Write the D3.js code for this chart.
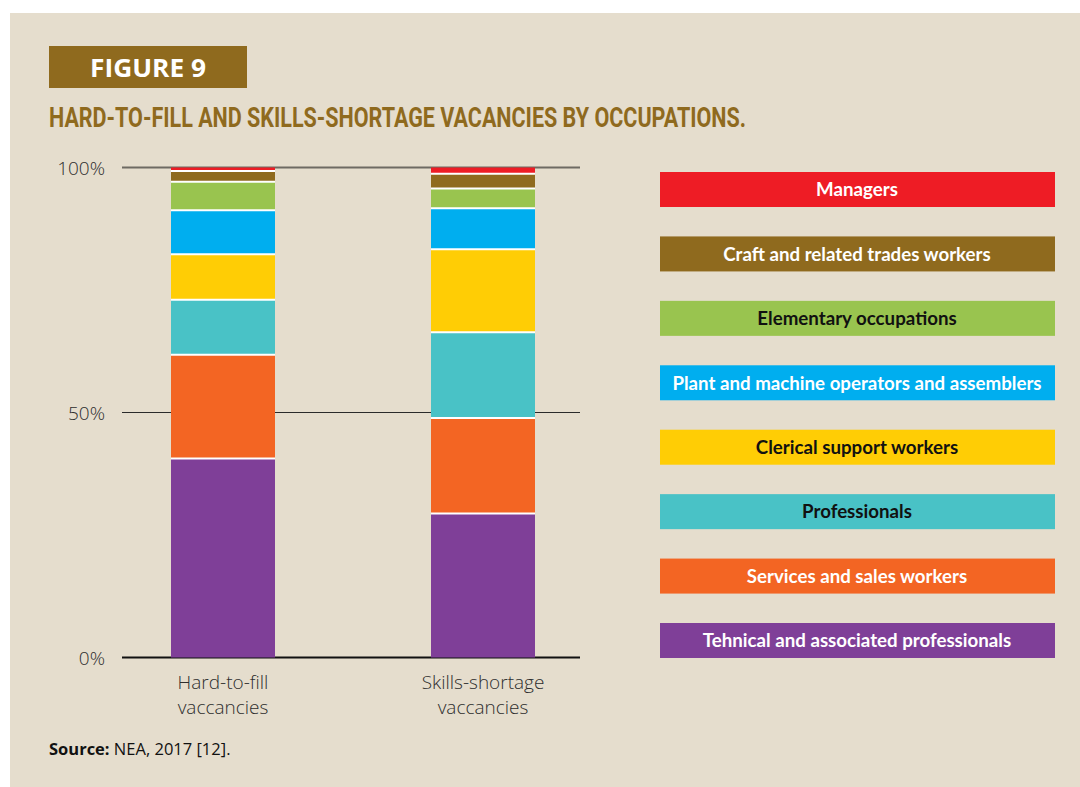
<!DOCTYPE html>
<html>
<head>
<meta charset="utf-8">
<script src="https://cdn.jsdelivr.net/npm/d3@7"></script>
<style>
  html, body { margin: 0; padding: 0; background: #ffffff; }
  svg { display: block; }
</style>
</head>
<body>
<svg id="chart" width="1080" height="787"></svg>
<script>
// Occupation groups, stacked from the bottom of each bar upward
const occupations = [
  "Tehnical and associated professionals",
  "Services and sales workers",
  "Professionals",
  "Clerical support workers",
  "Plant and machine operators and assemblers",
  "Elementary occupations",
  "Craft and related trades workers",
  "Managers"
];
const occupationColors = ["#7f3f98", "#f36523", "#49c2c6", "#ffcd05", "#00aeef", "#99c44f", "#8f6a1e", "#ee1c25"];
const legendTextColors = ["#ffffff", "#ffffff", "#111111", "#111111", "#ffffff", "#111111", "#ffffff", "#ffffff"];

// Vacancy types (x categories) and their label lines
const vacancyTypes = ["Hard-to-fill", "Skills-shortage"];
const vacancyLabels = [["Hard-to-fill", "vaccancies"], ["Skills-shortage", "vaccancies"]];

// Share of vacancies (%) per occupation, same order as occupations
const hardToFill = [40.6, 21.2, 11.2, 9.3, 9.0, 5.8, 2.2, 0.7];
const skillsShortage = [29.4, 19.5, 17.5, 16.9, 8.4, 4.0, 3.0, 1.3];

const yTicks = [0, 50, 100];
const yTickLabels = ["0%", "50%", "100%"];

const svg = d3.select("#chart");
const gold = "#8f6a1e";

// Beige panel
svg.append("rect").attr("x", 10).attr("y", 13).attr("width", 1070).attr("height", 774).attr("fill", "#e5ddcd");

// Figure banner
svg.append("rect").attr("x", 49).attr("y", 46).attr("width", 198).attr("height", 42).attr("fill", gold);
svg.append("text").attr("x", 148).attr("y", 77)
  .attr("text-anchor", "middle")
  .attr("font-family", "'Open Sans', sans-serif").attr("font-weight", 700).attr("font-size", 25)
  .attr("fill", "#ffffff")
  .attr("textLength", 116).attr("lengthAdjust", "spacingAndGlyphs")
  .text("FIGURE 9");

// Title
svg.append("text").attr("x", 49).attr("y", 127)
  .attr("font-family", "'Liberation Sans Narrow', 'Roboto', sans-serif").attr("font-weight", 700).attr("font-size", 28)
  .attr("fill", gold)
  .attr("textLength", 697).attr("lengthAdjust", "spacingAndGlyphs")
  .text("HARD-TO-FILL AND SKILLS-SHORTAGE VACANCIES BY OCCUPATIONS.");

// Scales
const y = d3.scaleLinear().domain([0, 100]).range([657.5, 167.5]);
const x = d3.scalePoint().domain(vacancyTypes).range([223, 483]);
const barWidth = 104;
const gridX0 = 122, gridX1 = 580;

// Gridlines
const gridStyles = { 0: ["#111111", 2.2], 50: ["#2a2a2a", 1.2], 100: ["#6e6a63", 1.8] };
svg.append("g").selectAll("line").data(yTicks).join("line")
  .attr("x1", gridX0).attr("x2", gridX1)
  .attr("y1", d => y(d)).attr("y2", d => y(d))
  .attr("stroke", d => gridStyles[d][0])
  .attr("stroke-width", d => gridStyles[d][1]);

// Y tick labels
svg.append("g").selectAll("text").data(yTicks).join("text")
  .attr("x", 105).attr("y", d => y(d) + 7)
  .attr("text-anchor", "end")
  .attr("font-family", "'Open Sans', sans-serif").attr("font-weight", 300).attr("font-size", 19)
  .attr("fill", "#2e2e2e")
  .text((d, i) => yTickLabels[i]);

// Stacked data
const rows = vacancyTypes.map((v, i) => {
  const vals = i === 0 ? hardToFill : skillsShortage;
  const r = { type: v };
  occupations.forEach((o, j) => { r[o] = vals[j]; });
  return r;
});
const series = d3.stack().keys(occupations)(rows);

const barsG = svg.append("g");
series.forEach((s, k) => {
  barsG.selectAll(null).data(s).join("rect")
    .attr("x", d => x(d.data.type) - barWidth / 2)
    .attr("width", barWidth)
    .attr("y", d => y(d[1]))
    .attr("height", d => y(d[0]) - y(d[1]))
    .attr("fill", occupationColors[k]);
});
// White separators between stacked segments
series.slice(0, -1).forEach(s => {
  barsG.selectAll(null).data(s).join("line")
    .attr("x1", d => x(d.data.type) - barWidth / 2)
    .attr("x2", d => x(d.data.type) + barWidth / 2)
    .attr("y1", d => y(d[1])).attr("y2", d => y(d[1]))
    .attr("stroke", "#ffffff").attr("stroke-width", 2);
});

// X category labels
vacancyTypes.forEach((v, i) => {
  const t = svg.append("text")
    .attr("text-anchor", "middle")
    .attr("font-family", "'Open Sans', sans-serif").attr("font-weight", 300).attr("font-size", 19)
    .attr("fill", "#2e2e2e");
  vacancyLabels[i].forEach((line, li) => {
    t.append("tspan").attr("x", x(v)).attr("y", 689 + li * 25).text(line);
  });
});

// Legend (top-to-bottom: reverse of stacking order)
const legendOrder = occupations.map((o, i) => i).reverse();
const ly = d3.scalePoint().domain(legendOrder).range([172, 623]);
const legendG = svg.append("g");
legendOrder.forEach(i => {
  legendG.append("rect")
    .attr("x", 660).attr("y", ly(i)).attr("width", 395).attr("height", 35)
    .attr("fill", occupationColors[i]);
  legendG.append("text")
    .attr("x", 857).attr("y", ly(i) + 17.5).attr("dy", "0.36em")
    .attr("text-anchor", "middle")
    .attr("font-family", "'Lato', sans-serif").attr("font-weight", 700).attr("font-size", 18.7)
    .attr("fill", legendTextColors[i])
    .text(occupations[i]);
});

// Source note
const src = svg.append("text").attr("x", 49).attr("y", 755)
  .attr("font-family", "'Open Sans', sans-serif").attr("font-size", 16.5).attr("fill", "#111111");
src.append("tspan").attr("font-weight", 700).text("Source:");
src.append("tspan").attr("font-weight", 400).text(" NEA, 2017 [12].");
</script>
</body>
</html>
